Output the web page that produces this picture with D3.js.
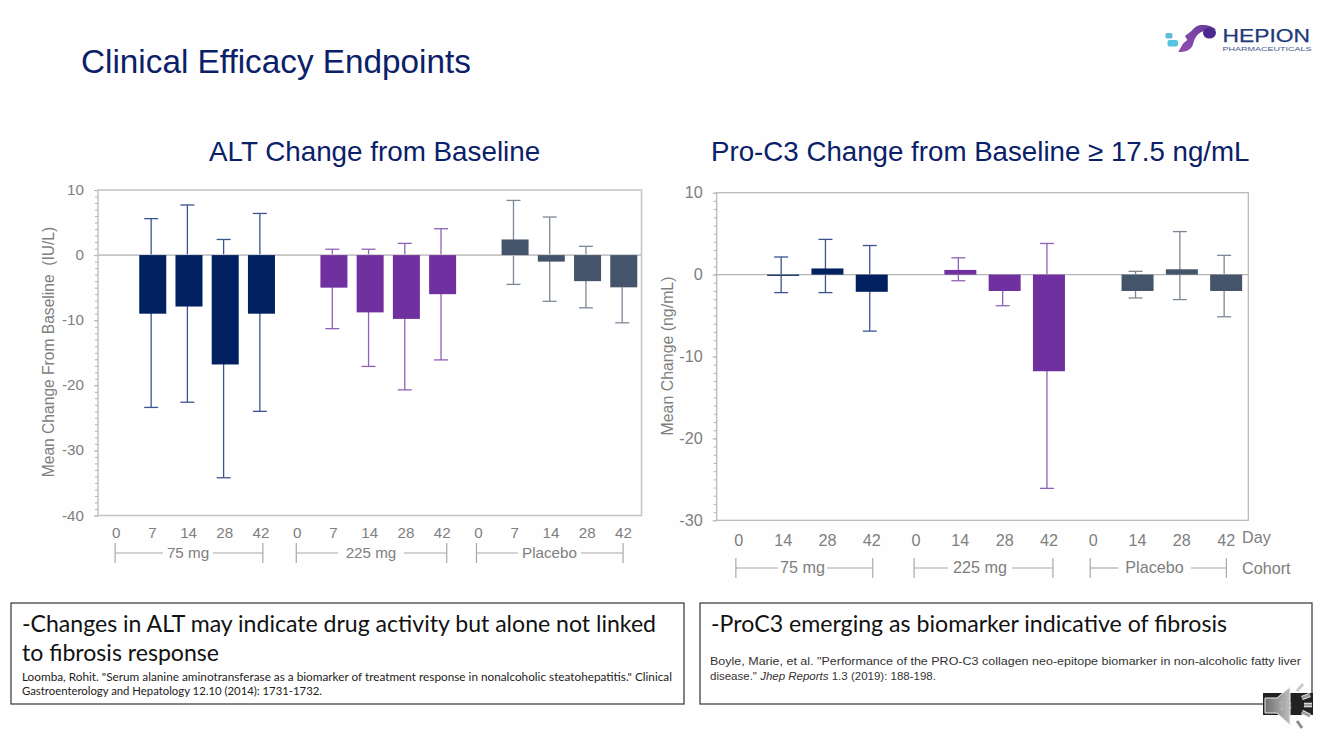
<!DOCTYPE html>
<html>
<head>
<meta charset="utf-8">
<script src="https://cdn.jsdelivr.net/npm/d3@7/dist/d3.min.js"></script>
<style>
html,body{margin:0;padding:0;background:#fefefe;}
svg{display:block;}
text{font-family:"Liberation Sans",Arial,sans-serif;}
</style>
</head>
<body>
<svg id="c" width="1333" height="750"></svg>
<script>
// ---------- data ----------
const altDays   = [0,7,14,28,42, 0,7,14,28,42, 0,7,14,28,42];
const altCohort = ["75 mg","75 mg","75 mg","75 mg","75 mg","225 mg","225 mg","225 mg","225 mg","225 mg","Placebo","Placebo","Placebo","Placebo","Placebo"];
const altMean   = [null,-9.0,-7.9,-16.8,-9.0, null,-5.0,-8.8,-9.8,-6.0, null,2.4,-1.0,-4.0,-4.95];
const altUpper  = [null,5.6,7.7,2.4,6.4, null,0.9,0.9,1.8,4.05, null,8.4,5.85,1.35,null];
const altLower  = [null,-23.4,-22.6,-34.2,-24.0, null,-11.3,-17.1,-20.7,-16.1, null,-4.5,-7.1,-8.1,-10.4];

const pcDays   = [0,14,28,42, 0,14,28,42, 0,14,28,42];
const pcCohort = ["75 mg","75 mg","75 mg","75 mg","225 mg","225 mg","225 mg","225 mg","Placebo","Placebo","Placebo","Placebo"];
const pcMean   = [null,-0.15,0.75,-2.1, null,0.57,-2.0,-11.8, null,-2.0,0.65,-2.0];
const pcUpper  = [null,2.15,4.3,3.55, null,2.05,null,3.8, null,0.4,5.25,2.35];
const pcLower  = [null,-2.2,-2.2,-6.9, null,-0.75,-3.8,-26.1, null,-2.85,-3.05,-5.15];

const cohortFill = {"75 mg":"#002060","225 mg":"#7030a0","Placebo":"#44546a"};
const cohortErr  = {"75 mg":"#3b5490","225 mg":"#8f62b8","Placebo":"#7d8896"};
const cohortNames = ["75 mg","225 mg","Placebo"];

const svg = d3.select("#c");

function panel(o){
  const g = svg.append("g");
  const x = d3.scaleBand().domain(d3.range(o.days.length)).range([o.left,o.right]);
  const y = d3.scaleLinear().domain(o.yDomain).range([o.bottom,o.top]);
  const grey = "#7f7f7f";

  g.append("rect").attr("x",o.left).attr("y",o.top).attr("width",o.right-o.left).attr("height",o.bottom-o.top)
    .attr("fill","#fff").attr("stroke",o.frame).attr("stroke-width",o.frameW);

  // minor ticks
  const minor = g.append("g").attr("transform",`translate(${o.left},0)`)
    .call(d3.axisLeft(y).tickValues(d3.range(o.yDomain[0],o.yDomain[1]+1,1)).tickSize(3).tickFormat(""));
  minor.select(".domain").remove();
  minor.selectAll("line").attr("stroke","#b5b5b5").attr("stroke-width",1);
  // major ticks
  const major = g.append("g").attr("transform",`translate(${o.left},0)`)
    .call(d3.axisLeft(y).tickValues(d3.range(o.yDomain[0],o.yDomain[1]+1,10)).tickSize(4).tickPadding(o.tickPad).tickFormat(d=>String(d)));
  major.select(".domain").remove();
  major.selectAll("line").attr("stroke","#b5b5b5");
  major.selectAll("text").attr("fill",grey).style("font-size",o.fs+"px").attr("dy",o.tickDy);

  // error bars
  const idx = d3.range(o.days.length).filter(i=>o.mean[i]!==null);
  const cx = i=>x(i)+x.bandwidth()/2;
  const ex = i=>cx(i)+o.errOff;
  const top = i=>o.upper[i]===null?o.mean[i]:o.upper[i];
  const eb = g.append("g").selectAll("g").data(idx).join("g")
    .attr("stroke",i=>cohortErr[o.cohort[i]]).attr("stroke-width",1.3);
  eb.append("line").attr("x1",ex).attr("x2",ex).attr("y1",i=>y(top(i))).attr("y2",i=>y(o.lower[i]));
  eb.filter(i=>o.upper[i]!==null).append("line").attr("x1",i=>ex(i)-o.cap).attr("x2",i=>ex(i)+o.cap).attr("y1",i=>y(o.upper[i])).attr("y2",i=>y(o.upper[i]));
  eb.append("line").attr("x1",i=>ex(i)-o.cap).attr("x2",i=>ex(i)+o.cap).attr("y1",i=>y(o.lower[i])).attr("y2",i=>y(o.lower[i]));

  // zero line
  g.append("line").attr("x1",o.left).attr("x2",o.right).attr("y1",y(0)).attr("y2",y(0))
    .attr("stroke",o.frame).attr("stroke-width",o.frameW);

  // bars
  g.append("g").selectAll("rect").data(idx).join("rect")
    .attr("x",i=>cx(i)-o.barW/2+o.barOff)
    .attr("width",o.barW)
    .attr("y",i=>y(Math.max(0,o.mean[i])))
    .attr("height",i=>Math.max(1.2,Math.abs(y(o.mean[i])-y(0))))
    .attr("fill",i=>cohortFill[o.cohort[i]]);

  // x tick labels
  const xa = g.append("g").attr("transform",`translate(0,${o.xLabelY})`)
    .call(d3.axisBottom(x).tickSize(0).tickPadding(0).tickFormat(i=>String(o.days[i])));
  xa.select(".domain").remove();
  xa.selectAll("text").attr("fill",grey).style("font-size",o.fs+"px").attr("dy",0);

  // cohort brackets
  cohortNames.forEach((c,k)=>{
    const ii = d3.range(o.days.length).filter(i=>o.cohort[i]===c);
    const a = cx(ii[0])+o.brOff[k][0], b = cx(ii[ii.length-1])+o.brOff[k][1];
    const gp = o.gaps[k];
    const br = g.append("g").attr("stroke","#a8a8a8").attr("stroke-width",1.2);
    br.append("line").attr("x1",a).attr("x2",a).attr("y1",o.brY-10).attr("y2",o.brY+10);
    br.append("line").attr("x1",b).attr("x2",b).attr("y1",o.brY-10).attr("y2",o.brY+10);
    br.append("line").attr("x1",a).attr("x2",gp[0]).attr("y1",o.brY).attr("y2",o.brY);
    br.append("line").attr("x1",gp[1]).attr("x2",b).attr("y1",o.brY).attr("y2",o.brY);
    g.append("text").attr("x",(gp[0]+gp[1])/2).attr("y",o.brY+o.brText).attr("text-anchor","middle")
      .attr("fill",grey).style("font-size",o.fs+"px").text(c);
  });

  // y label
  g.append("text").attr("transform",`translate(${o.ylx},${o.yly}) rotate(-90)`).attr("text-anchor","middle")
    .attr("fill",grey).style("font-size",o.ylfs+"px").text(o.ylabel);
  return g;
}

panel({days:altDays,cohort:altCohort,mean:altMean,upper:altUpper,lower:altLower,
  left:98,right:641.5,top:190,bottom:515.5,yDomain:[-40,10],frame:"#c6c6c6",frameW:1.6,fs:15.2,tickPad:10,tickDy:"0.3em",
  barW:27,barOff:0.4,errOff:-1.2,cap:7,xLabelY:538,brY:553,brText:5,
  brOff:[[-1,1.8],[-1,4.5],[-2,-0.3]],
  gaps:[[163,213],[338,404],[518,581]],ylx:54,yly:352,ylfs:15.6,ylabel:"Mean Change From Baseline\u00a0\u00a0(IU/L)"});

panel({days:pcDays,cohort:pcCohort,mean:pcMean,upper:pcUpper,lower:pcLower,
  left:716.7,right:1248.3,top:192.7,bottom:520.3,yDomain:[-30,10],frame:"#b4b4b4",frameW:1.2,fs:16.2,tickPad:10,tickDy:"0.3em",
  barW:32,barOff:0,errOff:-2,cap:7,xLabelY:545.5,brY:568,brText:4.5,
  brOff:[[-3,1],[-2,4],[-3,0.2]],
  gaps:[[778,827],[948,1012],[1118,1191]],ylx:673,yly:356,ylfs:15.9,ylabel:"Mean Change (ng/mL)"});

svg.append("text").attr("x",1242).attr("y",543).attr("fill","#7f7f7f").style("font-size","16.2px").text("Day");
svg.append("text").attr("x",1242).attr("y",574).attr("fill","#7f7f7f").style("font-size","16.2px").text("Cohort");

// ---------- titles ----------
const navy="#0a2068";
svg.append("text").attr("x",81).attr("y",73).attr("fill",navy).style("font-size","33.3px").text("Clinical Efficacy Endpoints");
svg.append("text").attr("x",209).attr("y",161).attr("fill",navy).style("font-size","27.8px").text("ALT Change from Baseline");
svg.append("text").attr("x",711).attr("y",161).attr("fill",navy).style("font-size","27.7px").text("Pro-C3 Change from Baseline ≥ 17.5 ng/mL");

// ---------- note boxes ----------
function box(x,w){ svg.append("rect").attr("x",x).attr("y",603).attr("width",w).attr("height",101).attr("fill","#fff").attr("stroke","#333").attr("stroke-width",1.2); }
box(11,673); box(700,612);
function line(x,y,s,fs,fam,len,col){
  const t=svg.append("text").attr("x",x).attr("y",y).attr("fill",col||"#111").style("font-size",fs+"px").style("font-family",fam).text(s);
  if(len) t.attr("textLength",len).attr("lengthAdjust","spacingAndGlyphs");
  return t;
}
const lato='Lato,"Open Sans",sans-serif';
line(22,632,"-Changes in ALT may indicate drug activity but alone not linked",24,lato,634);
line(22,661,"to fibrosis response",24,lato,197);
line(22,681,"Loomba, Rohit. \"Serum alanine aminotransferase as a biomarker of treatment response in nonalcoholic steatohepatitis.\" Clinical",11.5,lato,650,"#222");
line(22,695,"Gastroenterology and Hepatology 12.10 (2014): 1731-1732.",11.5,lato,300,"#222");
line(711,632,"-ProC3 emerging as biomarker indicative of fibrosis",24,lato,516);
line(710,665,"Boyle, Marie, et al. \"Performance of the PRO-C3 collagen neo-epitope biomarker in non-alcoholic fatty liver",11.5,'"Liberation Sans"',591,"#333");
const cite=svg.append("text").attr("x",710).attr("y",680).attr("fill","#333").style("font-size","11.5px");
cite.append("tspan").text("disease.\" ");
cite.append("tspan").style("font-style","italic").text("Jhep Reports");
cite.append("tspan").text(" 1.3 (2019): 188-198.");

// ---------- logo ----------
const defs=svg.append("defs");
const lg=defs.append("linearGradient").attr("id","lg").attr("x1","0").attr("x2","1").attr("y1","1").attr("y2","0");
lg.append("stop").attr("offset","0").attr("stop-color","#8e4fb0");
lg.append("stop").attr("offset","1").attr("stop-color","#6a3a9c");
const logo=svg.append("g");
logo.append("path").attr("fill","url(#lg)").attr("d","M1178.3 51.7 C1185 52.7 1192 50 1193.3 43.3 C1195 37 1198 32 1205 30.7 C1209 29.5 1213 29 1216 30 C1213 26 1207 24.5 1200 25 C1196 26 1193 29 1191.7 30.7 L1185 36 L1187.3 40 L1183.3 43.3 Z");
logo.append("ellipse").attr("cx",1209.5).attr("cy",33).attr("rx",6.5).attr("ry",5.5).attr("fill","#4a2a8e");
logo.append("rect").attr("x",1165.5).attr("y",33).attr("width",7).attr("height",5.5).attr("rx",1.8).attr("fill","#5fbcd8");
logo.append("rect").attr("x",1167.5).attr("y",40).attr("width",10.5).attr("height",6.5).attr("rx",2).attr("fill","#55c3e3");
logo.append("text").attr("x",1222.5).attr("y",41.7).attr("fill","#1f3a78").attr("stroke","#1f3a78").attr("stroke-width",0.25).style("font-size","18.7px").attr("textLength",87.5).attr("lengthAdjust","spacingAndGlyphs").text("HEPION");
logo.append("text").attr("x",1222.5).attr("y",50.7).attr("fill","#3f5a92").style("font-size","5.6px").attr("textLength",89).attr("lengthAdjust","spacingAndGlyphs").text("PHARMACEUTICALS");

// ---------- speaker ----------
const sp=svg.append("g");
sp.append("rect").attr("x",1263).attr("y",693).attr("width",50).attr("height",22).attr("fill","#222");
const sg=defs.append("linearGradient").attr("id","sg");
sg.append("stop").attr("offset","0").attr("stop-color","#707070");
sg.append("stop").attr("offset","1").attr("stop-color","#bdbdbd");
sp.append("path").attr("fill","url(#sg)").attr("stroke","#eee").attr("stroke-width",1).attr("d","M1265 698 L1277 698 L1290 687 L1290 725 L1277 713 L1265 713 Z");
sp.append("text").attr("x",1285).attr("y",710).attr("text-anchor","middle").attr("fill","#b8b8b8").style("font-size","12px").text("13");
[[1297,691,1303,684,"#c8c8c8"],[1302,698,1310,695,"#999"],[1304,705,1312,705,"#999"],[1302,712,1310,716,"#999"],[1297,721,1302,728,"#888"]].forEach(r=>{
  sp.append("line").attr("x1",r[0]).attr("y1",r[1]).attr("x2",r[2]).attr("y2",r[3]).attr("stroke","#f4f4f4").attr("stroke-width",4.5);
  sp.append("line").attr("x1",r[0]).attr("y1",r[1]).attr("x2",r[2]).attr("y2",r[3]).attr("stroke",r[4]).attr("stroke-width",2.6);
});
</script>
</body>
</html>
